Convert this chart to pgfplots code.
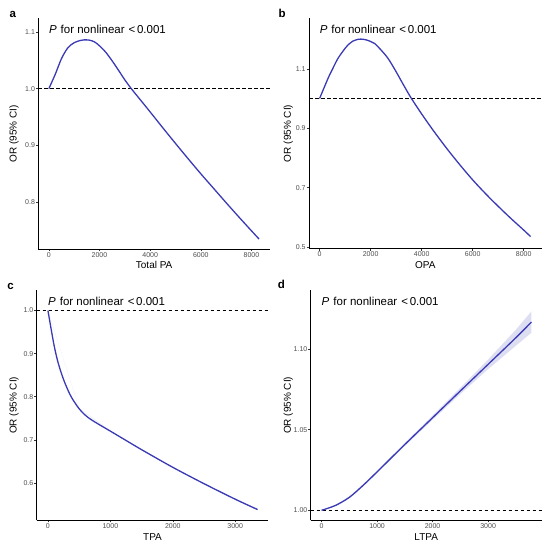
\documentclass[border=0pt]{standalone}
\usepackage{pgfplots}
\pgfplotsset{compat=1.18}
\usepackage{fontspec}
\setmainfont{Liberation Sans}
\definecolor{curve}{RGB}{58,58,181}
\definecolor{band}{RGB}{222,222,243}
\definecolor{tickgray}{RGB}{77,77,77}
\pgfplotsset{
  rcs/.style={
    scale only axis,
    axis lines=left,
    axis line style={-, line width=0.6pt, black},
    tick align=outside,
    major tick length=2.2pt,
    tick style={line width=0.5pt, color=black!80},
    tick label style={font=\fontsize{7}{8}\selectfont, color=tickgray, inner sep=1pt},
    /pgf/number format/assume math mode=true,
    /pgf/number format/1000 sep={},
    scaled ticks=false,
    label style={font=\fontsize{8.8}{10}\selectfont},
    every axis x label/.style={at={(axis description cs:0.5,-0.071)}, anchor=center},
    clip=false,
  },
  curvestyle/.style={color=curve, line width=1.3pt, smooth, tension=0.5},
  refline/.style={black, line width=0.7pt, dash pattern=on 3.6pt off 2.4pt},
}
\tikzset{ann/.style={anchor=west, inner sep=0pt, font=\fontsize{11.5}{12}\selectfont}}
\newcommand{\annot}{\textit{P}\hspace{0.35em}for nonlinear\hspace{0.35em}<\hspace{0.15em}0.001}
\begin{document}
\begin{tikzpicture}
\path[use as bounding box] (0pt,0pt) rectangle (550pt,547pt);

% ---------- panel a ----------
\begin{axis}[rcs, at={(38.3pt,298pt)}, anchor=south west, width=231.7pt, height=230.7pt,
  xmin=-416, xmax=8731, ymin=0.7175, ymax=1.124,
  xtick={0,2000,4000,6000,8000}, ytick={0.8,0.9,1.0,1.1},
  yticklabel style={/pgf/number format/.cd, fixed, fixed zerofill, precision=1},
  xlabel={Total PA}, ylabel={OR (95\% CI)},
  every axis y label/.style={at={(axis description cs:-0.105,0.5)}, anchor=center, rotate=90}]
\addplot[refline] coordinates {(-416,1) (8731,1)};
\addplot[curvestyle] coordinates {
(0,1.000) (250,1.025) (500,1.053) (750,1.072) (1000,1.081) (1250,1.085) (1400,1.086)
(1600,1.0855) (1800,1.0825) (2000,1.0755) (2250,1.064) (2500,1.049) (2750,1.0325)
(3000,1.0155) (3256,1.000) (3500,0.9865) (4000,0.959) (4500,0.931) (5000,0.9035)
(5500,0.8765) (6000,0.850) (6500,0.8245) (7000,0.799) (7500,0.774) (8000,0.7495) (8300,0.735)};
\node[ann] at (axis cs:0,1.1045) {\annot};
\end{axis}

% ---------- panel b ----------
\begin{axis}[rcs, at={(309pt,298.5pt)}, anchor=south west, width=232.7pt, height=230.2pt,
  xmin=-415, xmax=8705, ymin=0.495, ymax=1.27,
  xtick={0,2000,4000,6000,8000}, ytick={0.5,0.7,0.9,1.1},
  yticklabel style={/pgf/number format/.cd, fixed, fixed zerofill, precision=1},
  xlabel={OPA}, ylabel={OR (95\% CI)},
  every axis y label/.style={at={(axis description cs:-0.089,0.5)}, anchor=center, rotate=90}]
\addplot[refline] coordinates {(-415,1) (8705,1)};
\addplot[curvestyle] coordinates {
(0,1.000) (327,1.067) (500,1.098) (720,1.135) (1000,1.169) (1110,1.180) (1300,1.193)
(1500,1.199) (1610,1.200) (1800,1.198) (2000,1.192) (2160,1.185) (2400,1.164)
(2683,1.135) (3000,1.090) (3208,1.058) (3400,1.029) (3600,1.000) (4000,0.948)
(4450,0.893) (5000,0.830) (5500,0.7765) (6000,0.726) (6500,0.680) (7000,0.637)
(7500,0.596) (8000,0.557) (8270,0.535)};
\node[ann] at (axis cs:0,1.2328) {\annot};
\end{axis}

% ---------- panel c ----------
\begin{axis}[rcs, at={(36.7pt,26.7pt)}, anchor=south west, width=231.6pt, height=230pt,
  xmin=-180, xmax=3530, ymin=0.513, ymax=1.047,
  xtick={0,1000,2000,3000}, ytick={0.6,0.7,0.8,0.9,1.0},
  yticklabel style={/pgf/number format/.cd, fixed, fixed zerofill, precision=1},
  xlabel={TPA}, ylabel={OR (95\% CI)},
  every axis y label/.style={at={(axis description cs:-0.098,0.5)}, anchor=center, rotate=90}]
\addplot[fill=band, draw=none] coordinates {
(0,1.000) (500,0.7732) (1000,0.7206) (1500,0.6778) (2000,0.6368) (2500,0.5990) (3000,0.5633) (3358,0.5395)
(3358,0.5365) (3000,0.5607) (2500,0.5970) (2000,0.6352) (1500,0.6762) (1000,0.7194) (500,0.7728) (0,1.000)} -- cycle;
\addplot[refline] coordinates {(-180,1) (3530,1)};
\addplot[curvestyle] coordinates {
(0,1.000) (50,0.958) (100,0.918) (150,0.886) (200,0.861) (250,0.840) (300,0.822)
(350,0.806) (400,0.793) (450,0.782) (500,0.772) (575,0.760) (650,0.751) (700,0.746)
(800,0.737) (900,0.7285) (1000,0.720) (1250,0.6985) (1500,0.677) (2000,0.636)
(2500,0.598) (3000,0.562) (3358,0.538)};
\node[ann] at (axis cs:0,1.0214) {\annot};
\end{axis}

% ---------- panel d ----------
\begin{axis}[rcs, at={(310.7pt,26.7pt)}, anchor=south west, width=231pt, height=230pt,
  xmin=-195, xmax=3965, ymin=0.9938, ymax=1.1364,
  xtick={0,1000,2000,3000}, ytick={1.00,1.05,1.10},
  yticklabel style={/pgf/number format/.cd, fixed, fixed zerofill, precision=2},
  xlabel={LTPA}, ylabel={OR (95\% CI)},
  every axis y label/.style={at={(axis description cs:-0.097,0.5)}, anchor=center, rotate=90}]
\addplot[fill=band, draw=none] coordinates {
(0,1.0000) (250,1.0033) (500,1.0085) (750,1.0161) (1000,1.0245) (1500,1.0417) (2000,1.0587)
(2500,1.0759) (3000,1.0935) (3500,1.1120) (3780,1.1233)
(3780,1.1101) (3500,1.1020) (3000,1.0875) (2500,1.0721) (2000,1.0561) (1500,1.0399)
(1000,1.0231) (750,1.0149) (500,1.0075) (250,1.0027) (0,1.0000)} -- cycle;
\addplot[refline] coordinates {(-195,1) (3965,1)};
\addplot[curvestyle] coordinates {
(0,1.0000) (250,1.0030) (500,1.0080) (750,1.0155) (1000,1.0238) (1250,1.0323)
(1500,1.0408) (2000,1.0574) (2500,1.0740) (3000,1.0905) (3500,1.1070) (3780,1.1167)};
\node[ann] at (axis cs:0,1.1296) {\annot};
\end{axis}

% panel letters
\node[anchor=base west, inner sep=0pt, font=\bfseries\fontsize{11.5}{12}\selectfont] at (9.3pt,529.7pt) {a};
\node[anchor=base west, inner sep=0pt, font=\bfseries\fontsize{11.5}{12}\selectfont] at (278.3pt,529.7pt) {b};
\node[anchor=base west, inner sep=0pt, font=\bfseries\fontsize{11.5}{12}\selectfont] at (7.3pt,257.7pt) {c};
\node[anchor=base west, inner sep=0pt, font=\bfseries\fontsize{11.5}{12}\selectfont] at (277.7pt,258.3pt) {d};
\end{tikzpicture}
\end{document}
